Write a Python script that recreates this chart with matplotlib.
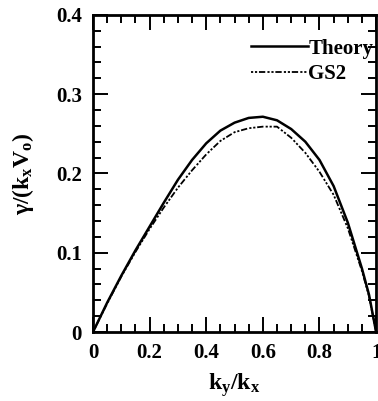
import matplotlib
matplotlib.use("Agg")
import matplotlib.pyplot as plt
from matplotlib.ticker import MultipleLocator

plt.rcParams['font.family'] = ['Liberation Serif', 'DejaVu Serif']
plt.rcParams['font.weight'] = 'bold'
plt.rcParams['mathtext.fontset'] = 'custom'
plt.rcParams['mathtext.rm'] = 'Liberation Serif:bold'
plt.rcParams['mathtext.it'] = 'Liberation Serif:bold'
plt.rcParams['mathtext.bf'] = 'Liberation Serif:bold'

# k_y / k_x
ky = [0, 0.05, 0.1, 0.15, 0.2, 0.25, 0.3, 0.35, 0.4, 0.45, 0.5, 0.55,
      0.6, 0.65, 0.7, 0.75, 0.8, 0.85, 0.9, 0.95, 0.975, 1.0]
# growth rate gamma/(k_x V_0)
theory = [0, 0.037, 0.071, 0.103, 0.133, 0.163, 0.192, 0.217, 0.238, 0.254,
          0.264, 0.270, 0.2715, 0.267, 0.256, 0.240, 0.217, 0.184, 0.138,
          0.080, 0.047, 0]
gs2 = [0, 0.036, 0.070, 0.101, 0.130, 0.157, 0.182, 0.204, 0.224, 0.241,
       0.252, 0.257, 0.259, 0.259, 0.245, 0.226, 0.202, 0.173, 0.131,
       0.077, 0.045, 0]

fig = plt.figure(figsize=(3.78, 4.01), dpi=100)
ax = fig.add_axes([0.246, 0.172, 0.749, 0.791])

ax.plot(ky, theory, color='black', lw=1.8, label='Theory')
ax.plot(ky, gs2, color='black', lw=1.3, linestyle=(0, (1.2, 1.0, 1.2, 1.0, 3.5, 1.2)),
        label='GS2')

ax.set_xlim(0, 1)
ax.set_ylim(0, 0.4)
ax.xaxis.set_minor_locator(MultipleLocator(0.05))
ax.yaxis.set_minor_locator(MultipleLocator(0.02))
ax.set_xticks([0, 0.2, 0.4, 0.6, 0.8, 1.0], ['0', '0.2', '0.4', '0.6', '0.8', '1'])
ax.set_yticks([0, 0.1, 0.2, 0.3, 0.4], ['0', '0.1', '0.2', '0.3', '0.4'])
ax.tick_params(which='both', direction='in', top=True, right=True,
               width=1.4, labelsize=15, pad=8)
ax.tick_params(which='major', length=11)
ax.tick_params(which='minor', length=6)
for s in ax.spines.values():
    s.set_linewidth(2)

ax.set_xlabel(r'$\mathrm{k_y/k_x}$', fontsize=17, labelpad=6)
ax.set_ylabel(r'$\gamma\mathrm{/(k_x V_o)}$', fontsize=17, labelpad=14)

ax.legend(loc='upper right', bbox_to_anchor=(0.99, 0.925), frameon=False,
          fontsize=15, handlelength=2.75, handletextpad=0.0,
          borderaxespad=0, labelspacing=0.25, borderpad=0)

fig.savefig('out.png', dpi=100)
